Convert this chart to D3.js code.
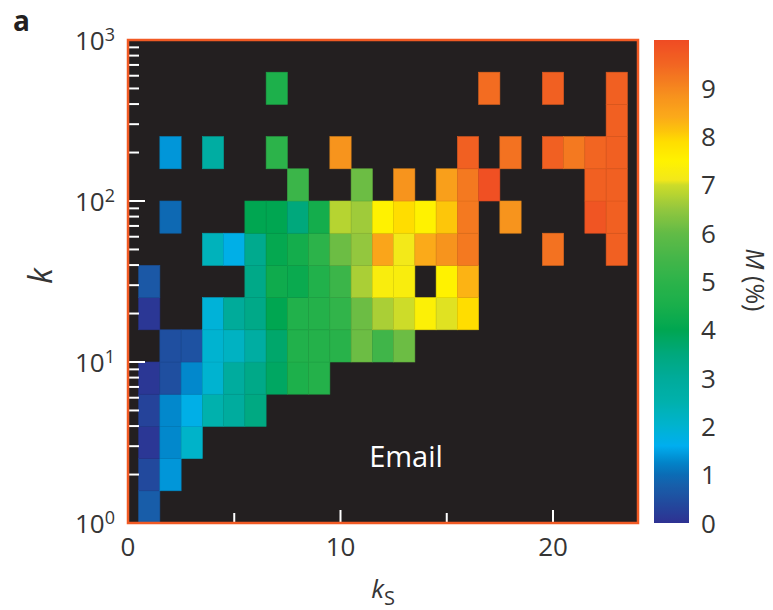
<!DOCTYPE html>
<html>
<head>
<meta charset="utf-8">
<script src="https://cdn.jsdelivr.net/npm/d3@7"></script>
<style>
  body { margin: 0; background: #ffffff; }
  svg { display: block; }
  text { font-family: "Open Sans", "DejaVu Sans", sans-serif; }
</style>
</head>
<body>
<svg id="chart" width="773" height="610"></svg>
<script>
// k_S columns (number of shared neighbours)
const ksValues = [1, 2, 3, 4, 5, 6, 7, 8, 9, 10, 11, 12, 13, 14, 15, 16, 17, 18, 19, 20, 21, 22, 23];

// logarithmic bin edges of the degree k (five bins per decade)
const kBinEdges = [1, 1.585, 2.512, 3.981, 6.31, 10, 15.85, 25.12, 39.81, 63.1,
                   100, 158.5, 251.2, 398.1, 631, 1000];

// M (%) per (k bin, k_S); first row is the lowest k bin, null = no data
const _ = null;
const mPercent = [
  /* k  1.0-1.6 */ [0.75, _, _, _, _, _, _, _, _, _, _, _, _, _, _, _, _, _, _, _, _, _, _],
  /* k  1.6-2.5 */ [0.4, 1.4, _, _, _, _, _, _, _, _, _, _, _, _, _, _, _, _, _, _, _, _, _],
  /* k  2.5-4.0 */ [0.1, 1.28, 2.1, _, _, _, _, _, _, _, _, _, _, _, _, _, _, _, _, _, _, _, _],
  /* k  4.0-6.3 */ [0.3, 1.28, 1.7, 2.5, 2.9, 3.4, _, _, _, _, _, _, _, _, _, _, _, _, _, _, _, _, _],
  /* k  6.3-10  */ [0.1, 0.5, 1.28, 2.0, 2.9, 3.3, 3.8, 4.6, 4.8, _, _, _, _, _, _, _, _, _, _, _, _, _, _],
  /* k  10-16   */ [_, 0.5, 0.55, 2.0, 2.2, 2.8, 3.7, 4.7, 4.8, 4.9, 6.1, 5.4, 6.1, _, _, _, _, _, _, _, _, _, _],
  /* k  16-25   */ [0.1, _, _, 1.9, 3.0, 3.3, 4.0, 4.7, 4.8, 5.1, 6.1, 6.7, 7.0, 7.4, 7.05, 7.9, _, _, _, _, _, _, _],
  /* k  25-40   */ [0.65, _, _, _, _, 3.3, 4.3, 4.2, 4.7, 5.3, 6.7, 7.3, 7.3, _, 7.5, 8.3, _, _, _, _, _, _, _],
  /* k  40-63   */ [_, _, _, 2.3, 1.7, 3.2, 4.1, 4.4, 5.0, 6.1, 6.5, 8.5, 7.12, 8.4, 8.8, 9.2, _, _, _, 9.3, _, _, 9.6],
  /* k  63-100  */ [_, 0.95, _, _, _, 4.0, 4.0, 3.5, 4.4, 6.8, 6.6, 7.5, 7.9, 7.5, 8.1, 9.2, _, 8.8, _, _, _, 9.8, 9.6],
  /* k 100-158  */ [_, _, _, _, _, _, _, 5.3, _, _, 6.1, _, 8.8, _, 8.6, 9.2, 9.9, _, _, _, _, 9.6, 9.6],
  /* k 158-251  */ [_, 1.4, _, 2.8, _, _, 5.0, _, _, 8.8, _, _, _, _, _, 9.6, _, 9.3, _, 9.6, 9.2, 9.5, 9.6],
  /* k 251-398  */ [_, _, _, _, _, _, _, _, _, _, _, _, _, _, _, _, _, _, _, _, _, _, 9.6],
  /* k 398-631  */ [_, _, _, _, _, _, 4.6, _, _, _, _, _, _, _, _, _, 9.4, _, _, 9.6, _, _, 9.6],
  /* k 631-1000 */ [_, _, _, _, _, _, _, _, _, _, _, _, _, _, _, _, _, _, _, _, _, _, _]
];

// axis ticks and labels
const xMajorTicks = [10, 20];
const xMinorTicks = [5, 15];
const xTickLabels = [0, 10, 20];
const yDecades = [1, 10, 100, 1000];
const colorbarTicks = [0, 1, 2, 3, 4, 5, 6, 7, 8, 9];

// colour map for M (%)
const colorStops = [0, 0.5, 0.8, 1.0, 1.25, 1.6, 2.0, 2.5, 3.0, 3.5, 4.0, 4.5, 5.0, 5.5,
                    6.0, 6.5, 7.0, 7.1, 7.5, 7.9, 8.1, 8.4, 8.8, 9.2, 9.5, 10];
const colorValues = ["#2e3192", "#1f4fa0", "#1660ab", "#0b6cb5", "#0284c9", "#00aeef",
                     "#00b3d0", "#00b1ad", "#00ab9a", "#00a87c", "#00a651", "#19af4b",
                     "#2cb34a", "#45b649", "#62bb46", "#93c73e", "#cddc29", "#f2e81a",
                     "#fff200", "#ffdd00", "#fdc60a", "#fbaa19", "#f7941d", "#f47920",
                     "#f26522", "#ef4b23"];

const svg = d3.select("#chart");
const textColor = "#353535";
const frameColor = "#f15a24";

const plot = { left: 128, right: 638, top: 40, bottom: 523 };
const x = d3.scaleLinear().domain([0, 24]).range([plot.left, plot.right]);
const y = d3.scaleLog().domain([1, 1000]).range([plot.bottom, plot.top]);
const color = d3.scaleLinear().domain(colorStops).range(colorValues)
  .interpolate(d3.interpolateRgb).clamp(true);

// panel letter
svg.append("text").attr("x", 13).attr("y", 31)
  .attr("font-family", "'Liberation Sans', Arial, sans-serif")
  .attr("font-weight", "bold").attr("font-size", 28).attr("fill", "#231f20")
  .text("a");

// plot background
svg.append("rect")
  .attr("x", plot.left).attr("y", plot.top)
  .attr("width", plot.right - plot.left).attr("height", plot.bottom - plot.top)
  .attr("fill", "#231f20");

// heat-map cells
const cells = [];
mPercent.forEach((row, j) => {
  row.forEach((v, i) => {
    if (v !== null) cells.push({ ks: ksValues[i], kLo: kBinEdges[j], kHi: kBinEdges[j + 1], m: v });
  });
});
svg.append("g").selectAll("rect").data(cells).join("rect")
  .attr("x", d => x(d.ks - 0.5))
  .attr("y", d => y(d.kHi))
  .attr("width", d => x(d.ks + 0.5) - x(d.ks - 0.5))
  .attr("height", d => y(d.kLo) - y(d.kHi))
  .attr("fill", d => color(d.m))
  .attr("stroke", d => d3.color(color(d.m)).darker(0.25))
  .attr("stroke-width", 0.6);

// white tick marks inside the frame
const ticksG = svg.append("g").attr("stroke", "#ffffff").attr("stroke-width", 2);
const yTickVals = y.ticks().filter(v => v > 1 && v < 1000);
ticksG.selectAll("line.y").data(yTickVals).join("line").attr("class", "y")
  .attr("x1", plot.left + 1)
  .attr("x2", v => plot.left + (yDecades.includes(v) ? 17 : 11))
  .attr("y1", v => y(v)).attr("y2", v => y(v));
ticksG.selectAll("line.xM").data(xMajorTicks).join("line").attr("class", "xM")
  .attr("x1", v => x(v)).attr("x2", v => x(v))
  .attr("y1", plot.bottom - 1).attr("y2", plot.bottom - 13);
ticksG.selectAll("line.xm").data(xMinorTicks).join("line").attr("class", "xm")
  .attr("x1", v => x(v)).attr("x2", v => x(v))
  .attr("y1", plot.bottom - 1).attr("y2", plot.bottom - 10);

// frame
svg.append("rect")
  .attr("x", plot.left).attr("y", plot.top)
  .attr("width", plot.right - plot.left).attr("height", plot.bottom - plot.top)
  .attr("fill", "none").attr("stroke", frameColor).attr("stroke-width", 2.5);

// y tick labels 10^n
const yLab = svg.append("g").selectAll("text").data(yDecades).join("text")
  .attr("x", 115).attr("y", v => y(v) + 10)
  .attr("text-anchor", "end").attr("font-size", 26).attr("fill", textColor);
yLab.append("tspan").text("10");
yLab.append("tspan").attr("font-size", 18).attr("dy", -9)
  .text(v => Math.round(Math.log10(v)));

// x tick labels
svg.append("g").selectAll("text").data(xTickLabels).join("text")
  .attr("x", v => x(v)).attr("y", 556)
  .attr("text-anchor", "middle").attr("font-size", 26).attr("fill", textColor)
  .text(v => v);

// axis titles
const xTitle = svg.append("text").attr("x", 383).attr("y", 598)
  .attr("text-anchor", "middle").attr("fill", textColor);
xTitle.append("tspan").attr("font-style", "italic").attr("font-size", 26).text("k");
xTitle.append("tspan").attr("font-size", 20).attr("dy", 7).text("S");

svg.append("text")
  .attr("transform", "translate(52,276) rotate(-90)")
  .attr("text-anchor", "middle").attr("font-style", "italic")
  .attr("font-size", 32).attr("fill", textColor).text("k");

// network name
svg.append("text").attr("x", 406).attr("y", 467)
  .attr("text-anchor", "middle").attr("font-size", 29).attr("fill", "#ffffff")
  .text("Email");

// colour bar
const cb = { x: 654, w: 35 };
const cbScale = d3.scaleLinear().domain([0, 10]).range([plot.bottom, plot.top]);
const grad = svg.append("defs").append("linearGradient").attr("id", "cbGrad")
  .attr("x1", 0).attr("y1", 1).attr("x2", 0).attr("y2", 0);
d3.range(0, 10.001, 0.05).forEach(v => {
  grad.append("stop").attr("offset", v / 10).attr("stop-color", color(v));
});
svg.append("rect")
  .attr("x", cb.x).attr("y", cbScale(10))
  .attr("width", cb.w).attr("height", cbScale(0) - cbScale(10))
  .attr("fill", "url(#cbGrad)");

svg.append("g").selectAll("text").data(colorbarTicks).join("text")
  .attr("x", 701).attr("y", v => cbScale(v) + 9.5)
  .attr("font-size", 26).attr("fill", textColor)
  .text(v => v);

const cbTitle = svg.append("text")
  .attr("transform", "translate(746,280) rotate(90)")
  .attr("font-family", "'Liberation Sans', Arial, sans-serif")
  .attr("text-anchor", "middle").attr("font-size", 25).attr("fill", textColor);
cbTitle.append("tspan").attr("font-style", "italic").text("M");
cbTitle.append("tspan").text(" (%)");
</script>
</body>
</html>
